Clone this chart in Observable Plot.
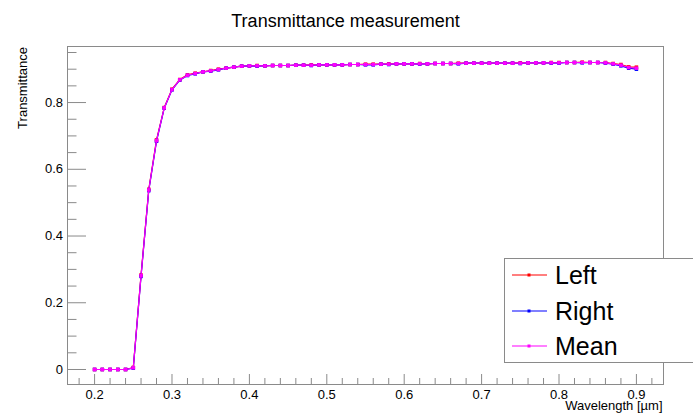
<!DOCTYPE html>
<html>
<head>
<meta charset="utf-8">
<script src="https://cdn.jsdelivr.net/npm/d3@7"></script>
<script src="https://cdn.jsdelivr.net/npm/@observablehq/plot@0.6"></script>
<style>
  html, body { margin: 0; padding: 0; background: #fff; overflow: hidden; }
  #chart { position: relative; width: 693px; height: 415px; font-family: "Liberation Sans", Arial, sans-serif; }
  #chart svg { display: block; }
  #legend { position: absolute; left: 504px; top: 258px; width: 200px; height: 105px;
            background: #fff; border: 1px solid #8a8a8a; box-sizing: border-box; }
</style>
</head>
<body>
<div id="chart"></div>
<script>
// Wavelength samples in micrometres
const wavelength = [
  0.20, 0.21, 0.22, 0.23, 0.24, 0.25, 0.26, 0.27, 0.28, 0.29,
  0.30, 0.31, 0.32, 0.33, 0.34, 0.35, 0.36, 0.37, 0.38, 0.39,
  0.40, 0.41, 0.42, 0.43, 0.44, 0.45, 0.46, 0.47, 0.48, 0.49,
  0.50, 0.51, 0.52, 0.53, 0.54, 0.55, 0.56, 0.57, 0.58, 0.59,
  0.60, 0.61, 0.62, 0.63, 0.64, 0.65, 0.66, 0.67, 0.68, 0.69,
  0.70, 0.71, 0.72, 0.73, 0.74, 0.75, 0.76, 0.77, 0.78, 0.79,
  0.80, 0.81, 0.82, 0.83, 0.84, 0.85, 0.86, 0.87, 0.88, 0.89,
  0.90
];

// Transmittance measured on the left side of the sample
const leftT = [
  0.000, 0.000, 0.000, 0.000, 0.000, 0.006, 0.283, 0.540, 0.688, 0.785,
  0.840, 0.869, 0.883, 0.888, 0.892, 0.896, 0.900, 0.903, 0.906, 0.909,
  0.910, 0.911, 0.910, 0.911, 0.911, 0.911, 0.912, 0.912, 0.913, 0.913,
  0.913, 0.913, 0.913, 0.914, 0.914, 0.915, 0.915, 0.915, 0.916, 0.916,
  0.916, 0.916, 0.917, 0.916, 0.917, 0.917, 0.917, 0.918, 0.918, 0.918,
  0.918, 0.918, 0.918, 0.918, 0.918, 0.919, 0.919, 0.919, 0.919, 0.920,
  0.920, 0.920, 0.920, 0.921, 0.920, 0.920, 0.920, 0.917, 0.914, 0.907,
  0.906
];

// Transmittance measured on the right side of the sample
const rightT = [
  0.000, 0.000, 0.000, 0.000, 0.000, 0.004, 0.279, 0.536, 0.684, 0.783,
  0.838, 0.867, 0.881, 0.886, 0.892, 0.894, 0.898, 0.903, 0.906, 0.909,
  0.910, 0.909, 0.910, 0.911, 0.911, 0.911, 0.912, 0.912, 0.911, 0.913,
  0.913, 0.913, 0.913, 0.914, 0.914, 0.913, 0.913, 0.915, 0.914, 0.916,
  0.916, 0.916, 0.915, 0.916, 0.917, 0.917, 0.917, 0.916, 0.918, 0.918,
  0.918, 0.918, 0.918, 0.918, 0.918, 0.917, 0.919, 0.919, 0.919, 0.918,
  0.918, 0.920, 0.920, 0.919, 0.920, 0.920, 0.918, 0.915, 0.910, 0.903,
  0.900
];

// Mean of the two sides
const meanT = [
  0.000, 0.000, 0.000, 0.000, 0.000, 0.005, 0.281, 0.538, 0.686, 0.784,
  0.839, 0.868, 0.882, 0.887, 0.892, 0.895, 0.899, 0.903, 0.906, 0.909,
  0.910, 0.910, 0.910, 0.911, 0.911, 0.911, 0.912, 0.912, 0.912, 0.913,
  0.913, 0.913, 0.913, 0.914, 0.914, 0.914, 0.914, 0.915, 0.915, 0.916,
  0.916, 0.916, 0.916, 0.916, 0.917, 0.917, 0.917, 0.917, 0.918, 0.918,
  0.918, 0.918, 0.918, 0.918, 0.918, 0.918, 0.919, 0.919, 0.919, 0.919,
  0.919, 0.920, 0.920, 0.920, 0.920, 0.920, 0.919, 0.916, 0.912, 0.905,
  0.903
];

const seriesNames = ["Left", "Right", "Mean"];
const seriesColors = ["#ff0000", "#0000ff", "#ff00ff"];
const seriesValues = [leftT, rightT, meanT];

// Axis ticks
const xMajorTicks = [0.2, 0.3, 0.4, 0.5, 0.6, 0.7, 0.8, 0.9];
const xMinorTicks = [0.18, 0.22, 0.24, 0.26, 0.28, 0.32, 0.34, 0.36, 0.38,
  0.42, 0.44, 0.46, 0.48, 0.52, 0.54, 0.56, 0.58, 0.62, 0.64, 0.66, 0.68,
  0.72, 0.74, 0.76, 0.78, 0.82, 0.84, 0.86, 0.88, 0.92];
const yMajorTicks = [0, 0.2, 0.4, 0.6, 0.8];
const yMinorTicks = [0.05, 0.1, 0.15, 0.25, 0.3, 0.35, 0.45, 0.5, 0.55,
  0.65, 0.7, 0.75, 0.85, 0.9, 0.95];
const xTickLabels = ["0.2", "0.3", "0.4", "0.5", "0.6", "0.7", "0.8", "0.9"];
const yTickLabels = ["0", "0.2", "0.4", "0.6", "0.8"];

const titleText = "Transmittance measurement";
const xTitle = "Wavelength [\u00b5m]";
const yTitle = "Transmittance";

// Geometry of the plotting frame
const W = 693, H = 415;
const mLeft = 67, mRight = 30, mTop = 46, mBottom = 31;
const frameW = W - mLeft - mRight;
const frameH = H - mTop - mBottom;
const axisGrey = "#8a8a8a";

const tables = seriesNames.map((name, s) =>
  wavelength.map((x, i) => ({series: name, x, y: seriesValues[s][i]}))
);

const seriesMarks = tables.flatMap((tbl, s) => [
  Plot.line(tbl, {x: "x", y: "y", stroke: seriesColors[s], strokeWidth: 1.2}),
  Plot.dot(tbl, {x: "x", y: "y", symbol: "square", r: 2, fill: seriesColors[s], stroke: null})
]);

const chart = Plot.plot({
  width: W,
  height: H,
  marginLeft: mLeft,
  marginRight: mRight,
  marginTop: mTop,
  marginBottom: mBottom,
  style: {fontFamily: "Liberation Sans, Arial, sans-serif", background: "#fff", color: "#000"},
  x: {domain: [0.165, 0.935], axis: null},
  y: {domain: [-0.045, 0.968], axis: null},
  marks: [
    // inward ticks on the left axis
    Plot.ruleY(yMajorTicks, {y: d => d, stroke: axisGrey, insetRight: frameW - 19}),
    Plot.ruleY(yMinorTicks, {y: d => d, stroke: axisGrey, insetRight: frameW - 9.5}),
    // inward ticks on the bottom axis
    Plot.ruleX(xMajorTicks, {x: d => d, stroke: axisGrey, insetTop: frameH - 10}),
    Plot.ruleX(xMinorTicks, {x: d => d, stroke: axisGrey, insetTop: frameH - 6}),
    Plot.frame({stroke: axisGrey}),
    ...seriesMarks,
    // tick labels
    Plot.text(yMajorTicks, {y: d => d, text: (d, i) => yTickLabels[i], frameAnchor: "left",
      textAnchor: "end", lineAnchor: "middle", dx: -4.5, fontSize: 13, fill: "#000"}),
    Plot.text(xMajorTicks, {x: d => d, text: (d, i) => xTickLabels[i], frameAnchor: "bottom",
      textAnchor: "middle", lineAnchor: "bottom", dy: 14, fontSize: 13, fill: "#000"}),
    // axis titles
    Plot.text([xTitle], {frameAnchor: "bottom-right", textAnchor: "end", lineAnchor: "bottom",
      dx: -1, dy: 25.5, fontSize: 13, fill: "#000"}),
    Plot.text([yTitle], {frameAnchor: "top-left", textAnchor: "end", lineAnchor: "bottom",
      rotate: -90, dx: -41, dy: 0.5, fontSize: 13, fill: "#000"}),
    // chart title
    Plot.text([titleText], {frameAnchor: "top", textAnchor: "middle", lineAnchor: "bottom",
      dx: -20, dy: -20, fontSize: 18, fill: "#000"})
  ]
});

const root = document.getElementById("chart");
root.appendChild(chart);

// Legend box with a line-and-marker sample per series
const legend = d3.select(root).append("div").attr("id", "legend");
const lsvg = legend.append("svg").attr("width", 200).attr("height", 105)
  .style("position", "absolute").style("left", "-1px").style("top", "-1px");
const rowY = [17, 53, 88];
seriesNames.forEach((name, i) => {
  const g = lsvg.append("g").attr("transform", `translate(0,${rowY[i]})`);
  g.append("line").attr("x1", 8).attr("x2", 43).attr("y1", 0).attr("y2", 0)
    .attr("stroke", seriesColors[i]).attr("stroke-width", 1.2);
  g.append("rect").attr("x", 23.5).attr("y", -1.5).attr("width", 3).attr("height", 3)
    .attr("fill", seriesColors[i]);
  g.append("text").attr("x", 51).attr("y", 0).attr("dy", "0.36em")
    .attr("font-family", "Liberation Sans, Arial, sans-serif").attr("font-size", 25)
    .attr("fill", "#000").text(name);
});
</script>
</body>
</html>
